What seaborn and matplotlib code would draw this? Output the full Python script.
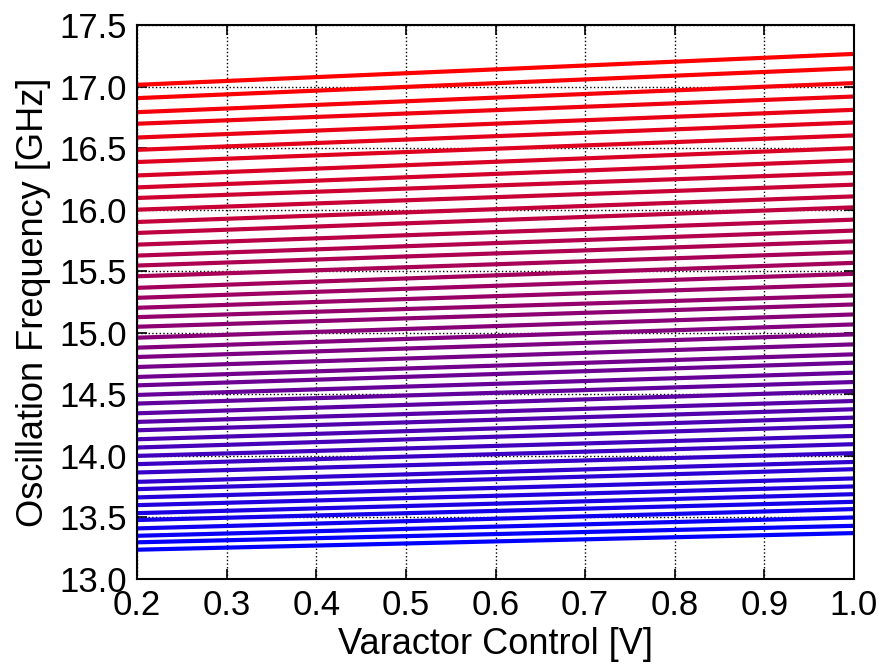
import matplotlib
matplotlib.use("Agg")
import matplotlib.pyplot as plt
import seaborn as sns
import pandas as pd

# varactor control sweep end points [V]
vctrl = [0.2, 1.0]

# oscillation frequency [GHz] per coarse band, at 0.2 V and at 1.0 V (top band first)
f_at_low = [17.014, 16.906, 16.792, 16.698, 16.586, 16.486, 16.387, 16.278,
            16.181, 16.095, 16.000, 15.900, 15.811, 15.716, 15.627, 15.546,
            15.459, 15.365, 15.284, 15.203, 15.127, 15.049, 14.960, 14.879,
            14.803, 14.722, 14.641, 14.573, 14.495, 14.425, 14.346, 14.276,
            14.208, 14.135, 14.068, 14.000, 13.933, 13.865, 13.789, 13.730,
            13.663, 13.600, 13.535, 13.479, 13.411, 13.351, 13.298, 13.238]
f_at_high = [17.265, 17.149, 17.028, 16.919, 16.811, 16.708, 16.603, 16.500,
             16.400, 16.298, 16.203, 16.108, 16.019, 15.919, 15.830, 15.743,
             15.654, 15.568, 15.479, 15.392, 15.303, 15.230, 15.149, 15.068,
             14.987, 14.906, 14.825, 14.757, 14.676, 14.600, 14.527, 14.446,
             14.379, 14.311, 14.243, 14.162, 14.095, 14.022, 13.951, 13.892,
             13.817, 13.752, 13.689, 13.627, 13.568, 13.500, 13.432, 13.373]

rows = []
n = len(f_at_low)
for i in range(n):
  band = n - 1 - i  # band 0 = lowest frequency
  rows.append({"band": band, "vctrl": vctrl[0], "freq": f_at_low[i]})
  rows.append({"band": band, "vctrl": vctrl[1], "freq": f_at_high[i]})
df = pd.DataFrame(rows)

sns.set_style("white")
plt.rcParams['font.family'] = ['Liberation Sans', 'DejaVu Sans']
plt.rcParams['text.color'] = 'black'
plt.rcParams['axes.labelcolor'] = 'black'
plt.rcParams['xtick.color'] = 'black'
plt.rcParams['ytick.color'] = 'black'

fig = plt.figure(figsize=(8.81, 6.64), dpi=100)
ax = fig.add_axes([137 / 881, 1 - 579 / 664, (854 - 137) / 881, (579 - 25) / 664])

palette = sns.blend_palette(["#0000ff", "#ff0000"], n)
sns.lineplot(data=df, x="vctrl", y="freq", hue="band", palette=palette,
             linewidth=3.0, legend=False, ax=ax)

ax.set_xlim(0.2, 1.0)
ax.set_ylim(13.0, 17.5)
ax.set_xticks([0.2, 0.3, 0.4, 0.5, 0.6, 0.7, 0.8, 0.9, 1.0])
ax.set_yticks([13.0, 13.5, 14.0, 14.5, 15.0, 15.5, 16.0, 16.5, 17.0, 17.5])
ax.set_xticklabels(["%.1f" % t for t in ax.get_xticks()])
ax.set_yticklabels(["%.1f" % t for t in ax.get_yticks()])
ax.grid(True, color="black", linestyle=":", linewidth=1.0)
ax.tick_params(direction="in", length=7, width=1.2, labelsize=25, pad=7,
               top=True, right=True, bottom=True, left=True)
for sp in ax.spines.values():
  sp.set_visible(True)
  sp.set_color("black")
  sp.set_linewidth(1.5)

ax.set_xlabel("Varactor Control [V]", fontsize=26, labelpad=4)
ax.set_ylabel("Oscillation Frequency [GHz]", fontsize=26, labelpad=6)

fig.savefig("out.png", dpi=100)
plt.close()
